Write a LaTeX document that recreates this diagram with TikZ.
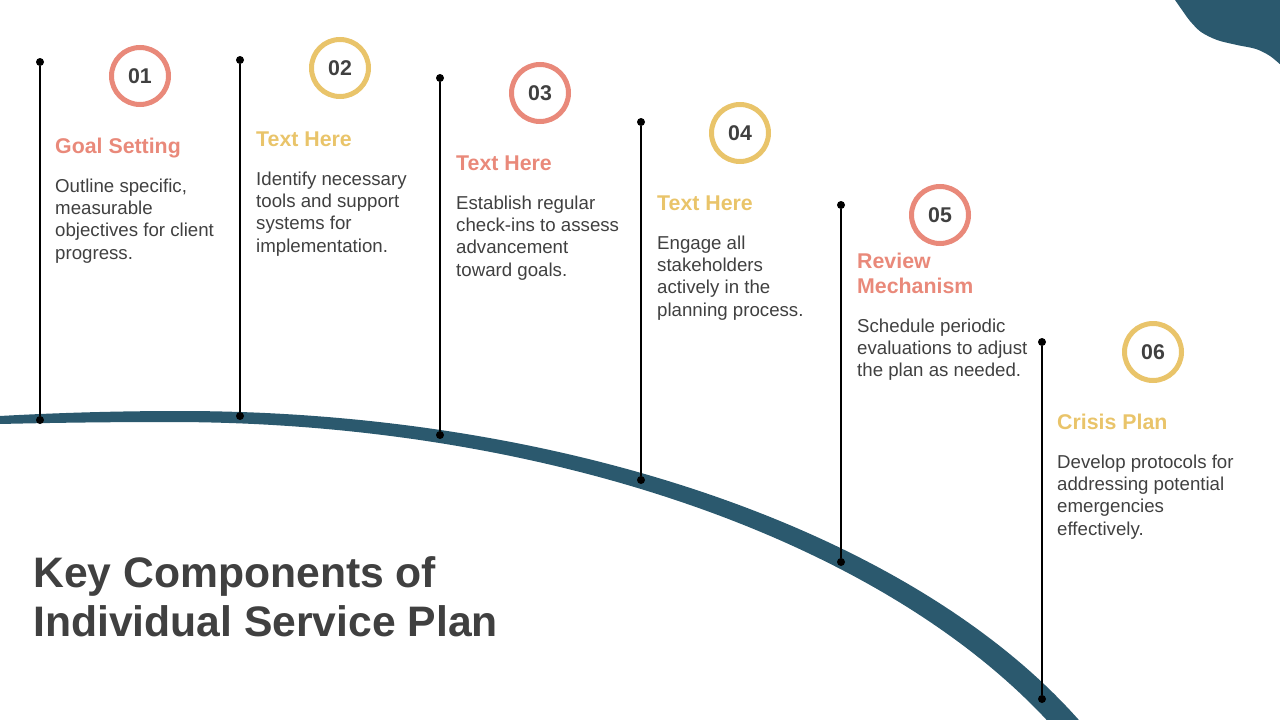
\documentclass[tikz,border=0pt]{standalone}
\usepackage{fontspec}
\setmainfont{Liberation Sans}
\definecolor{bandcol}{HTML}{2B596E}
\definecolor{salmon}{HTML}{E9897A}
\definecolor{gold}{HTML}{E9C46A}
\definecolor{txtgray}{HTML}{404040}
\newcommand{\lns}[1]{\vtop{\halign{##\hfil\cr#1\crcr}}}
\tikzset{
  dotnode/.style={circle,fill=black,inner sep=0pt,minimum size=8pt},
  vline/.style={draw=black,line width=1.3pt},
  ring/.style={circle,draw=#1,line width=5pt,minimum size=57pt,inner sep=0pt,text=txtgray,font=\fontsize{21.33}{25}\selectfont\bfseries},
  head/.style={anchor=base west,inner sep=0pt,text=#1,font=\fontsize{21.33}{25.6}\selectfont\bfseries},
  bodytxt/.style={anchor=base west,inner sep=0pt,text=txtgray,font=\fontsize{18.67}{22.4}\selectfont},
  titletxt/.style={anchor=base west,inner sep=0pt,text=txtgray,font=\fontsize{42.67}{49}\selectfont\bfseries}
}
\begin{document}
\begin{tikzpicture}[x=1pt,y=-1pt]
\useasboundingbox (0,0) rectangle (1280,720);
% top-right blob
\fill[bandcol] (1175,-2) -- plot[smooth] coordinates {(1175,0) (1182,10) (1190,21) (1201,32) (1217,40) (1237,45) (1256,49) (1270,56) (1282,66)} -- (1282,-2) -- cycle;
% curved band: upper edge (left part, right part), lower edge (right part, left part)
\fill[bandcol]
  plot[domain=-5:180,samples=30,variable=\t] (\t,{411+1.54*((\t-180)/100)^2})
  -- plot[domain=180:1100,samples=120,variable=\t] (\t,{411+550*(1-sqrt(1-((\t-180)/1000)^2))})
  -- plot[domain=0:895,samples=120,variable=\t] ({1065-\t},{422+556.5*(1-sqrt(1-((895-\t)/990)^2))})
  -- plot[domain=0:175,samples=30,variable=\t] ({170-\t},{422+0.69*(\t/100)^2})
  -- cycle;

% column 1
\node[dotnode] (t1) at (40,62) {};
\node[dotnode] (b1) at (40,420) {};
\draw[vline] (t1) -- (b1);
\node[ring=salmon] (c1) at (140,76) {01};
\node[head=salmon] (h1) at (55,153) {Goal Setting};
\node[bodytxt] (d1) at (55,192) {\lns{Outline specific,\cr measurable\cr objectives for client\cr progress.}};

% column 2
\node[dotnode] (t2) at (240,60) {};
\node[dotnode] (b2) at (240,416) {};
\draw[vline] (t2) -- (b2);
\node[ring=gold] (c2) at (340,68) {02};
\node[head=gold] (h2) at (256,146) {Text Here};
\node[bodytxt] (d2) at (256,185) {\lns{Identify necessary\cr tools and support\cr systems for\cr implementation.}};

% column 3
\node[dotnode] (t3) at (440,78) {};
\node[dotnode] (b3) at (440,435) {};
\draw[vline] (t3) -- (b3);
\node[ring=salmon] (c3) at (540,93) {03};
\node[head=salmon] (h3) at (456,170) {Text Here};
\node[bodytxt] (d3) at (456,209) {\lns{Establish regular\cr check-ins to assess\cr advancement\cr toward goals.}};

% column 4
\node[dotnode] (t4) at (641,122) {};
\node[dotnode] (b4) at (641,480) {};
\draw[vline] (t4) -- (b4);
\node[ring=gold] (c4) at (740,133) {04};
\node[head=gold] (h4) at (657,210) {Text Here};
\node[bodytxt] (d4) at (657,249) {\lns{Engage all\cr stakeholders\cr actively in the\cr planning process.}};

% column 5
\node[dotnode] (t5) at (841,205) {};
\node[dotnode] (b5) at (841,562) {};
\draw[vline] (t5) -- (b5);
\node[ring=salmon] (c5) at (940,215) {05};
\node[head=salmon] (h5) at (857,268) {\lns{Review\cr Mechanism}};
\node[bodytxt] (d5) at (857,332) {\lns{Schedule periodic\cr evaluations to adjust\cr the plan as needed.}};

% column 6
\node[dotnode] (t6) at (1042,342) {};
\node[dotnode] (b6) at (1042,699) {};
\draw[vline] (t6) -- (b6);
\node[ring=gold] (c6) at (1153,352) {06};
\node[head=gold] (h6) at (1057,429) {Crisis Plan};
\node[bodytxt] (d6) at (1057,468) {\lns{Develop protocols for\cr addressing potential\cr emergencies\cr effectively.}};

% title
\node[titletxt] (title) at (33,587) {\lns{Key Components of\cr Individual Service Plan}};
\end{tikzpicture}
\end{document}
